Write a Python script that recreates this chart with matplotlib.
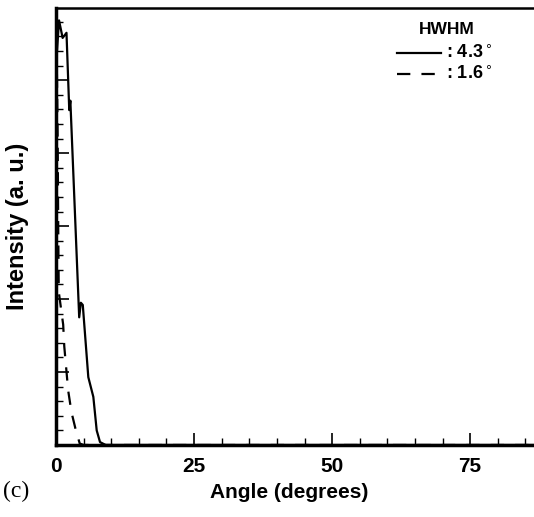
import matplotlib.pyplot as plt
from matplotlib.ticker import MultipleLocator
from matplotlib.lines import Line2D

# Kurven
angle_wide = [0, 0.55, 1.2, 1.9, 2.4, 2.6, 4.2, 4.5, 4.85, 5.85, 6.76, 7.37, 7.97, 9.0, 90]
int_wide = [5.2, 5.82, 5.58, 5.65, 4.59, 4.72, 1.75, 1.95, 1.92, 0.93, 0.66, 0.2, 0.04, 0.0, 0.0]

angle_narrow = [0, 0.15, 0.3, 0.4, 0.5, 1.3, 1.5, 2.2, 2.8, 3.6, 4.3, 5.0, 90]
int_narrow = [5.75, 5.2, 4.2, 3.0, 2.1, 1.65, 1.35, 0.75, 0.45, 0.2, 0.02, 0.0, 0.0]

hwhm_labels = [": 4.3$^\\circ$", ": 1.6$^\\circ$"]
x_ticks = [0, 25, 50, 75]

plt.rcParams['font.family'] = ['Liberation Sans', 'DejaVu Sans']

fig = plt.figure(figsize=(5.34, 5.17), dpi=100)
ax = fig.add_axes([56 / 534, 72 / 517, 497 / 534, 437 / 517])

ax.plot(angle_wide, int_wide, color='black', lw=1.6)
ax.plot(angle_narrow, int_narrow, color='black', lw=1.6, linestyle=(0, (6, 5)))

ax.set_xlim(0, 90)
ax.set_ylim(0, 5.99)
ax.set_xticks(x_ticks)
ax.xaxis.set_minor_locator(MultipleLocator(5))
ax.yaxis.set_major_locator(MultipleLocator(1))
ax.yaxis.set_minor_locator(MultipleLocator(0.2))
ax.set_yticklabels([])
ax.tick_params(which='major', direction='in', length=9, width=1.2)
ax.tick_params(which='minor', direction='in', length=5, width=1.0)
ax.tick_params(axis='x', labelsize=15, pad=9)
for lab in ax.get_xticklabels():
    lab.set_fontweight('bold')

ax.spines['left'].set_linewidth(2.5)
ax.spines['bottom'].set_linewidth(2.5)
ax.spines['top'].set_linewidth(1.8)

fig.text(289 / 534, 1 - 493 / 517, "Angle (degrees)", fontsize=15, fontweight='bold',
         ha='center', va='center')
fig.text(18 / 534, 1 - 226 / 517, "Intensity (a. u.)", rotation=90, fontsize=17,
         fontweight='bold', ha='center', va='center')
fig.text(3 / 534, 1 - 491 / 517, "(c)", fontsize=17, family='Liberation Serif',
         ha='left', va='center')

# Legende von Hand
fig.text(447 / 534, 1 - 30 / 517, "HWHM", fontsize=12.5, fontweight='bold',
         ha='center', va='center')
fig.add_artist(Line2D([397 / 534, 441 / 534], [1 - 53 / 517, 1 - 53 / 517],
                      color='black', lw=1.6))
fig.add_artist(Line2D([397 / 534, 441 / 534], [1 - 74 / 517, 1 - 74 / 517],
                      color='black', lw=1.6, linestyle=(0, (6, 5))))
fig.text(446 / 534, 1 - 53 / 517, hwhm_labels[0], fontsize=13, fontweight='bold',
         ha='left', va='center')
fig.text(446 / 534, 1 - 74 / 517, hwhm_labels[1], fontsize=13, fontweight='bold',
         ha='left', va='center')

fig.savefig("out.png", dpi=100)
